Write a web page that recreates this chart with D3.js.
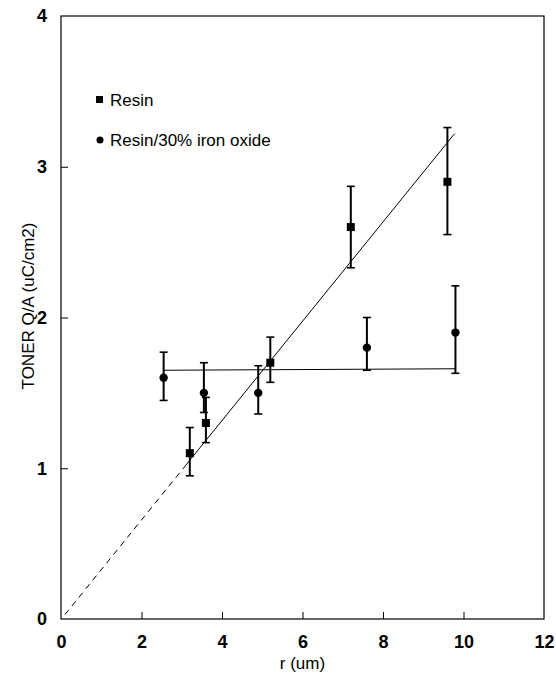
<!DOCTYPE html>
<meta charset="utf-8">
<style>
body { margin: 0; background: #fff; }
svg text { font-family: "Liberation Sans", Arial, sans-serif; fill: #000; }
.tick text { font-size: 18px; font-weight: bold; }
.axis path, .axis line { stroke: #000; }
</style>
<svg width="556" height="677"></svg>
<script src="https://cdn.jsdelivr.net/npm/d3@7"></script>
<script>
// valores
var xTicks = [0, 2, 4, 6, 8, 10, 12];
var yTicks = [0, 1, 2, 3, 4];

var resinX   = [3.2, 3.6, 5.2, 7.2, 9.6];
var resinY   = [1.1, 1.3, 1.7, 2.6, 2.9];
var resinLo  = [0.95, 1.17, 1.57, 2.33, 2.55];
var resinHi  = [1.27, 1.47, 1.87, 2.87, 3.26];

var ironX    = [2.55, 3.55, 4.9, 7.6, 9.8];
var ironY    = [1.6, 1.5, 1.5, 1.8, 1.9];
var ironLo   = [1.45, 1.37, 1.36, 1.65, 1.63];
var ironHi   = [1.77, 1.70, 1.68, 2.0, 2.21];

// retas ajustadas
var resinFitSolid  = [[3.1, 1.02], [9.78, 3.22]];
var resinFitDashed = [[0.1, 0.03], [3.1, 1.02]];
var ironFit        = [[2.55, 1.65], [9.8, 1.66]];

var svg = d3.select("svg");
var margin = {left: 61, top: 16, right: 12, bottom: 58};
var width = 556 - margin.left - margin.right,
    height = 677 - margin.top - margin.bottom;

var g = svg.append("g").attr("transform", "translate(" + margin.left + "," + margin.top + ")");

var x = d3.scaleLinear().domain([0, 12]).range([0, width]);
var y = d3.scaleLinear().domain([0, 4]).range([height, 0]);

// moldura
g.append("rect").attr("width", width).attr("height", height)
  .attr("fill", "none").attr("stroke", "#000").attr("stroke-width", 1.2);

var xAxis = g.append("g").attr("class", "axis")
  .attr("transform", "translate(0," + height + ")")
  .call(d3.axisBottom(x).tickValues(xTicks).tickFormat(d3.format("d"))
    .tickSizeInner(-7).tickSizeOuter(0).tickPadding(16));
var yAxis = g.append("g").attr("class", "axis")
  .call(d3.axisLeft(y).tickValues(yTicks).tickFormat(d3.format("d"))
    .tickSizeInner(-7).tickSizeOuter(0).tickPadding(14));
xAxis.select(".domain").remove();
yAxis.select(".domain").remove();
xAxis.selectAll(".tick line").filter(d => d === 0 || d === 12).remove();
yAxis.selectAll(".tick line").filter(d => d === 0 || d === 4).remove();

// títulos
g.append("text").attr("x", x(6)).attr("y", height + 50)
  .attr("text-anchor", "middle").style("font-size", "17px").text("r (um)");
g.append("text").attr("transform", "translate(" + (34 - margin.left) + "," + (306 - margin.top) + ") rotate(-90)")
  .attr("text-anchor", "middle").style("font-size", "17px").text("TONER Q/A (uC/cm2)");

var line = d3.line().x(d => x(d[0])).y(d => y(d[1]));
g.append("path").attr("d", line(resinFitSolid)).attr("stroke", "#000").attr("fill", "none").attr("stroke-width", 1);
g.append("path").attr("d", line(resinFitDashed)).attr("stroke", "#000").attr("fill", "none")
  .attr("stroke-width", 1).attr("stroke-dasharray", "6,5");
g.append("path").attr("d", line(ironFit)).attr("stroke", "#000").attr("fill", "none").attr("stroke-width", 1);

function errorBars(xs, lo, hi) {
  var eb = g.append("g");
  xs.forEach(function(v, i) {
    eb.append("line").attr("x1", x(v)).attr("x2", x(v)).attr("y1", y(lo[i])).attr("y2", y(hi[i]))
      .attr("stroke", "#000").attr("stroke-width", 2);
    [lo[i], hi[i]].forEach(function(e) {
      eb.append("line").attr("x1", x(v) - 4).attr("x2", x(v) + 4).attr("y1", y(e)).attr("y2", y(e))
        .attr("stroke", "#000").attr("stroke-width", 1.6);
    });
  });
}
errorBars(resinX, resinLo, resinHi);
errorBars(ironX, ironLo, ironHi);

g.selectAll(".sq").data(resinX).enter().append("rect")
  .attr("x", (d, i) => x(d) - 4).attr("y", (d, i) => y(resinY[i]) - 4)
  .attr("width", 8).attr("height", 8).attr("fill", "#000");
g.selectAll(".ci").data(ironX).enter().append("circle")
  .attr("cx", d => x(d)).attr("cy", (d, i) => y(ironY[i])).attr("r", 4.2).attr("fill", "#000");

// legenda
var leg = svg.append("g");
leg.append("rect").attr("x", 96).attr("y", 96).attr("width", 7).attr("height", 7).attr("fill", "#000");
leg.append("text").attr("x", 110).attr("y", 106).style("font-size", "17px").text("Resin");
leg.append("circle").attr("cx", 100).attr("cy", 140).attr("r", 3.5).attr("fill", "#000");
leg.append("text").attr("x", 110).attr("y", 146).style("font-size", "17px").text("Resin/30% iron oxide");
</script>
